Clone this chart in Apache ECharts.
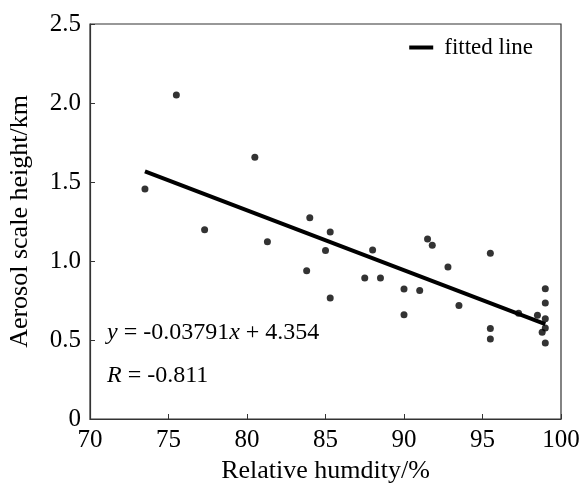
<!DOCTYPE html>
<html>
<head>
<meta charset="utf-8">
<script src="https://cdn.jsdelivr.net/npm/echarts@6/dist/echarts.min.js"></script>
<style>html,body{margin:0;padding:0;background:#fff}#c{width:582px;height:485px}</style>
</head>
<body>
<div id="c"></div>
<script>
const humidity = [73.5, 75.5, 77.3, 80.5, 81.3, 83.8, 84.0, 85.0, 85.3, 85.3, 87.5, 88.0, 88.5, 90.0, 90.0, 91.0, 91.5, 91.8, 92.8, 93.5, 95.5, 95.5, 95.5, 97.3, 98.5, 98.8, 99.0, 99.0, 99.0, 99.0, 99.0];
const scaleHeight = [1.456, 2.05, 1.198, 1.656, 1.122, 0.939, 1.274, 1.067, 1.184, 0.766, 0.892, 1.070, 0.892, 0.823, 0.660, 0.814, 1.139, 1.099, 0.962, 0.719, 1.049, 0.572, 0.506, 0.669, 0.656, 0.549, 0.825, 0.734, 0.635, 0.576, 0.481];
const fitSlope = -0.03791;
const fitIntercept = 4.354;
const fitRange = [73.5, 99.0];
const xTicks = [70, 75, 80, 85, 90, 95, 100];
const yTickLabels = ['0', '0.5', '1.0', '1.5', '2.0', '2.5'];

const pts = humidity.map((x, i) => [x, scaleHeight[i]]);
const fit = fitRange.map(x => [x, fitSlope * x + fitIntercept]);
const font = '"Liberation Serif", "Times New Roman", serif';

const chart = echarts.init(document.getElementById('c'), null, {renderer: 'canvas'});
chart.setOption({
  animation: false,
  backgroundColor: '#fff',
  grid: {left: 90, right: 21, top: 24, bottom: 66, show: true, borderColor: '#333', borderWidth: 1.2,
    backgroundColor: 'transparent', containLabel: false, outerBoundsMode: 'none'},
  legend: {
    data: [{name: 'fitted line', icon: 'rect'}],
    right: 44, top: 31, itemWidth: 24, itemHeight: 4, itemGap: 8,
    textStyle: {fontFamily: font, fontSize: 23, color: '#000', padding: [0, 0, 0, 6]}
  },
  xAxis: {
    type: 'value', min: 70, max: 100, interval: 5,
    name: 'Relative humdity/%', nameLocation: 'middle', nameGap: 36,
    nameTextStyle: {fontFamily: font, fontSize: 26, color: '#000'},
    axisLine: {lineStyle: {color: '#333', width: 1.2}},
    axisTick: {inside: true, length: 5, lineStyle: {color: '#333'}},
    axisLabel: {fontFamily: font, fontSize: 25, color: '#000', margin: 9,
      formatter: v => xTicks.includes(v) ? String(v) : ''},
    splitLine: {show: false}
  },
  yAxis: {
    type: 'value', min: 0, max: 2.5, interval: 0.5,
    name: 'Aerosol scale height/km', nameLocation: 'middle', nameGap: 57,
    nameTextStyle: {fontFamily: font, fontSize: 26, color: '#000'},
    axisLine: {show: true, lineStyle: {color: '#333', width: 1.2}},
    axisTick: {show: true, inside: true, length: 5, lineStyle: {color: '#333'}},
    axisLabel: {fontFamily: font, fontSize: 25, color: '#000', margin: 9,
      formatter: v => yTickLabels[Math.round(v / 0.5)]},
    splitLine: {show: false}
  },
  series: [
    {type: 'scatter', name: 'data', data: pts, symbolSize: 7, itemStyle: {color: '#000'}, z: 3},
    {type: 'line', name: 'fitted line', data: fit, symbol: 'none', lineStyle: {color: '#000', width: 4}, itemStyle: {color: '#000'}, z: 4}
  ],
  graphic: [
    {type: 'text', left: 107, top: 321, style: {
      text: '{i|y} = -0.03791{i|x} + 4.354',
      font: '24px ' + font, fill: '#000',
      rich: {i: {fontStyle: 'italic', fontFamily: font, fontSize: 24, fill: '#000'}}
    }},
    {type: 'text', left: 107, top: 364, style: {
      text: '{i|R} = -0.811',
      font: '24px ' + font, fill: '#000',
      rich: {i: {fontStyle: 'italic', fontFamily: font, fontSize: 24, fill: '#000'}}
    }}
  ]
});
</script>
</body>
</html>
